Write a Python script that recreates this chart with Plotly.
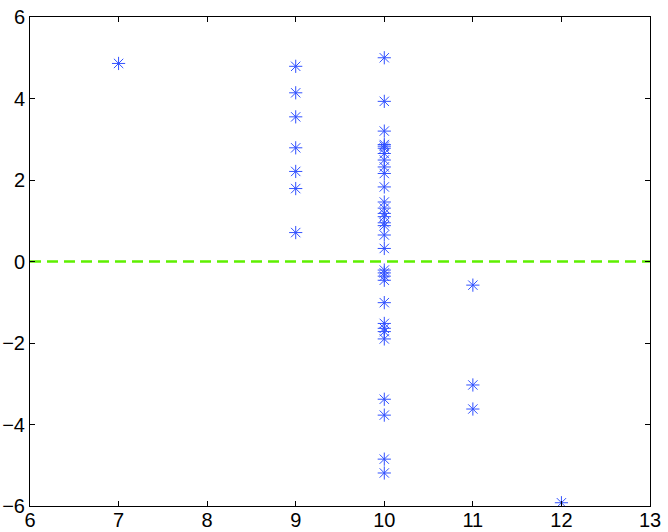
import plotly.graph_objects as go

# Scatter data (x group, y value)
x7 = [7]
y7 = [4.86]
x9_vals = [4.79, 4.14, 3.55, 2.79, 2.21, 1.79, 0.71]
x10_vals = [5.00, 3.93, 3.20, 2.87, 2.83, 2.78, 2.65, 2.49, 2.32, 2.16, 1.83,
            1.46, 1.31, 1.18, 1.10, 0.95, 0.88, 0.65, 0.32,
            -0.21, -0.28, -0.36, -0.46, -1.01, -1.52, -1.64, -1.72, -1.90,
            -3.38, -3.77, -4.85, -5.19]
x11_vals = [-0.58, -3.03, -3.62]
x12_vals = [-5.92]

ref_x = [6, 13]
ref_y = [0, 0]

x_ticks = [6, 7, 8, 9, 10, 11, 12, 13]
y_ticks = [-6, -4, -2, 0, 2, 4, 6]

xs = x7 + [9] * len(x9_vals) + [10] * len(x10_vals) + [11] * len(x11_vals) + [12] * len(x12_vals)
ys = y7 + x9_vals + x10_vals + x11_vals + x12_vals

fig = go.Figure()
fig.add_trace(go.Scatter(
    x=ref_x, y=ref_y, mode="lines",
    line=dict(color="#5ef000", width=2.5, dash="11px,6px"),
    hoverinfo="skip", showlegend=False,
))
fig.add_trace(go.Scatter(
    x=xs, y=ys, mode="markers",
    marker=dict(symbol="asterisk-open", size=11, color="#3050ff",
                line=dict(color="#3050ff", width=1)),
    showlegend=False,
))

axis_common = dict(
    showgrid=False, zeroline=False, showline=True, linecolor="black",
    linewidth=1, mirror="allticks", ticks="inside", ticklen=5,
    tickcolor="black", tickwidth=1, automargin=False,
    tickfont=dict(family="Liberation Sans, Arial, sans-serif", size=20, color="black"),
)
fig.update_xaxes(range=[6, 13], tickvals=x_ticks, ticktext=[str(v) for v in x_ticks],
                 ticklabelstandoff=-4, **axis_common)
fig.update_yaxes(range=[-6, 6], tickvals=y_ticks, ticktext=[str(v).replace("-", "\u2212") for v in y_ticks],
                 **axis_common)

fig.update_layout(
    width=668, height=532,
    margin=dict(l=30, r=18, t=17, b=26, pad=0),
    paper_bgcolor="white", plot_bgcolor="white",
)
fig.write_html("out.html", config={"displayModeBar": False},
               post_script="document.body.style.margin='0';document.body.style.overflow='hidden';")
